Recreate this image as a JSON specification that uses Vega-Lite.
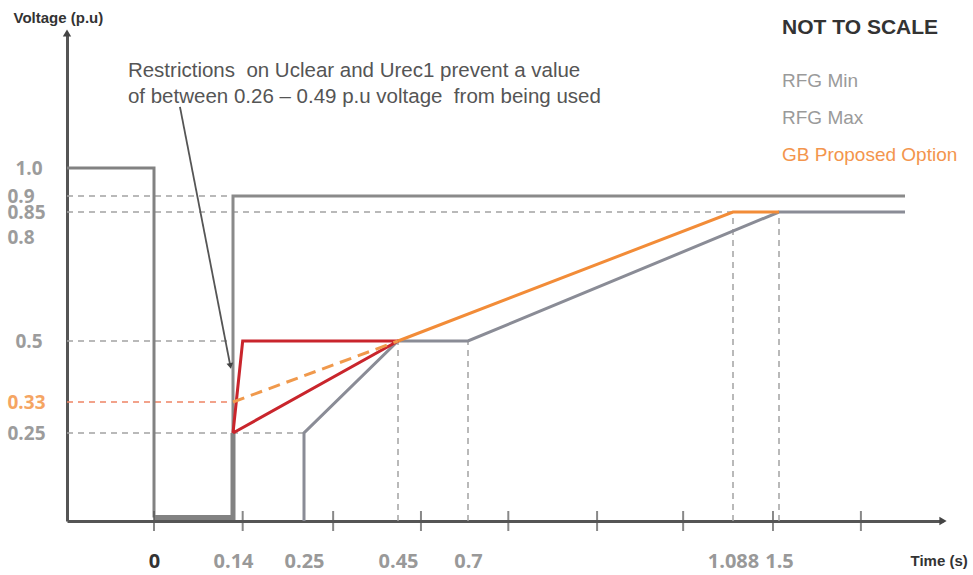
{
  "$schema": "https://vega.github.io/schema/vega-lite/v6.json",
  "width": 876,
  "height": 488,
  "autosize": {"type": "none"},
  "padding": {"left": 67, "top": 33, "right": 30, "bottom": 54},
  "background": "white",
  "config": {"view": {"stroke": null}, "font": "Liberation Sans"},
  "datasets": {
    "lines": [
      {"series": "Fault", "i": 1, "t": -0.2, "v": 1.0},
      {"series": "Fault", "i": 2, "t": 0, "v": 1.0},
      {"series": "Fault", "i": 3, "t": 0, "v": 0.01},
      {"series": "Zero", "i": 1, "t": 0, "v": 0.01},
      {"series": "Zero", "i": 2, "t": 0.14, "v": 0.01},
      {"series": "Zero", "i": 3, "t": 0.14, "v": 0.25},
      {"series": "RFG Max", "i": 1, "t": 0.14, "v": 0.01},
      {"series": "RFG Max", "i": 2, "t": 0.14, "v": 0.9},
      {"series": "RFG Max", "i": 3, "t": 2.0, "v": 0.9},
      {"series": "RFG Min", "i": 1, "t": 0.25, "v": 0},
      {"series": "RFG Min", "i": 2, "t": 0.25, "v": 0.25},
      {"series": "RFG Min", "i": 3, "t": 0.45, "v": 0.5},
      {"series": "RFG Min", "i": 4, "t": 0.7, "v": 0.5},
      {"series": "RFG Min", "i": 5, "t": 1.5, "v": 0.85},
      {"series": "RFG Min", "i": 6, "t": 2.0, "v": 0.85},
      {"series": "Restriction", "i": 1, "t": 0.14, "v": 0.25},
      {"series": "Restriction", "i": 2, "t": 0.155, "v": 0.5},
      {"series": "Restriction", "i": 3, "t": 0.45, "v": 0.5},
      {"series": "Restriction", "i": 4, "t": 0.14, "v": 0.25},
      {"series": "GB dashed", "i": 1, "t": 0.14, "v": 0.33},
      {"series": "GB dashed", "i": 2, "t": 0.45, "v": 0.5},
      {"series": "GB Proposed Option", "i": 1, "t": 0.45, "v": 0.5},
      {"series": "GB Proposed Option", "i": 2, "t": 1.088, "v": 0.85},
      {"series": "GB Proposed Option", "i": 3, "t": 1.5, "v": 0.85}
    ],
    "refs": [
      {"kind": "gray", "t": -0.2, "t2": 0.14, "v": 0.9, "v2": 0.9},
      {"kind": "gray", "t": -0.2, "t2": 1.088, "v": 0.85, "v2": 0.85},
      {"kind": "gray", "t": -0.2, "t2": 0.14, "v": 0.5, "v2": 0.5},
      {"kind": "orange", "t": -0.2, "t2": 0.14, "v": 0.33, "v2": 0.33},
      {"kind": "gray", "t": -0.2, "t2": 0.25, "v": 0.25, "v2": 0.25},
      {"kind": "gray", "t": 0.45, "t2": 0.45, "v": 0, "v2": 0.5},
      {"kind": "gray", "t": 0.7, "t2": 0.7, "v": 0, "v2": 0.5},
      {"kind": "gray", "t": 1.088, "t2": 1.088, "v": 0, "v2": 0.85},
      {"kind": "gray", "t": 1.5, "t2": 1.5, "v": 0, "v2": 0.85}
    ],
    "ticks": [
      {"t": 0}, {"t": 0.155}, {"t": 0.312}, {"t": 0.532}, {"t": 0.759},
      {"t": 0.889}, {"t": 1.015}, {"t": 1.446}, {"t": 1.825}
    ]
  },
  "layer": [
    {
      "encoding": {
        "x": {
          "field": "t", "type": "quantitative",
          "scale": {"domain": [-0.2, 0, 0.14, 0.25, 0.45, 0.7, 1.088, 1.5, 2.0, 2.2], "range": [0, 87, 166, 237, 331, 401, 666, 712, 838, 876], "nice": false, "zero": false},
          "axis": {
            "values": [0, 0.14, 0.25, 0.45, 0.7, 1.088, 1.5], "format": ".3~f",
            "ticks": false, "tickSize": 0, "grid": false,
            "domainColor": "#555555", "domainWidth": 3,
            "labelPadding": 40, "labelBaseline": "middle", "labelFontSize": 20, "labelFont": "Open Sans",
            "labelColor": {"condition": {"test": "datum.value == 0", "value": "#333333"}, "value": "#999999"},
            "labelFontWeight": "bold",
            "labelOverlap": false, "labelBound": false, "labelFlush": false,
            "title": "Time (s)", "titleX": 843, "titleY": 39, "titleAlign": "left", "titleBaseline": "middle",
            "titleFontSize": 15, "titleFontWeight": "bold", "titleColor": "#333333", "titleFont": "Liberation Sans"
          }
        },
        "y": {
          "field": "v", "type": "quantitative",
          "scale": {"domain": [0, 0.25, 0.33, 0.5, 0.8, 0.85, 0.9, 1.0, 1.3], "range": [488, 400, 369, 308, 204, 179, 163, 135, 0], "nice": false, "zero": false},
          "axis": {
            "values": [0.25, 0.33, 0.5, 0.8, 0.85, 0.9, 1.0],
            "labelExpr": "datum.value == 1 ? '1.0' : format(datum.value, '.2~f')",
            "ticks": false, "tickSize": 0, "grid": false,
            "domainColor": "#555555", "domainWidth": 3,
            "labelPadding": {"condition": {"test": "datum.value == 1 || datum.value == 0.5", "value": 52}, "value": 60},
            "labelAlign": "left", "labelBaseline": "middle", "labelFontSize": 19, "labelFont": "Open Sans",
            "labelFontWeight": "bold",
            "labelColor": {"condition": {"test": "datum.value == 0.33", "value": "#f5a563"}, "value": "#9c9c9c"},
            "labelOverlap": false, "labelBound": false, "labelFlush": false,
            "title": "Voltage (p.u)", "titleAngle": 0, "titleX": -54, "titleY": -16, "titleAlign": "left", "titleBaseline": "middle",
            "titleFontSize": 15, "titleFontWeight": "bold", "titleColor": "#333333", "titleFont": "Liberation Sans"
          }
        }
      },
      "layer": [
        {
          "data": {"name": "refs"},
          "mark": {"type": "rule", "strokeDash": [6, 5], "strokeWidth": 1.5},
          "encoding": {
            "x2": {"field": "t2"},
            "y2": {"field": "v2"},
            "color": {"condition": {"test": "datum.kind == 'orange'", "value": "#ee8464"}, "value": "#a3a3a3"}
          }
        },
        {
          "data": {"name": "lines"},
          "transform": [{"filter": "indexof(['Fault','RFG Max','RFG Min'], datum.series) >= 0"}],
          "mark": {"type": "line", "strokeWidth": 3},
          "encoding": {
            "order": {"field": "i"},
            "color": {
              "field": "series", "type": "nominal",
              "scale": {"domain": ["RFG Min", "RFG Max", "GB Proposed Option", "Fault", "Zero", "Restriction", "GB dashed"], "range": ["#8a8c96", "#8a8a8a", "#f28c38", "#828282", "#828282", "#c9252c", "#f0994c"]},
              "legend": {
                "orient": "none", "legendX": 696, "legendY": 38.5, "title": null,
                "values": ["RFG Min", "RFG Max", "GB Proposed Option"],
                "symbolSize": 0, "symbolOpacity": 0, "symbolStrokeWidth": 0, "labelOffset": 0,
                "labelFontSize": 19, "labelFont": "Liberation Sans", "rowPadding": 17, "padding": 0,
                "labelColor": "#9a9a9a", "labelLimit": 300,
                "encode": {"labels": {"update": {"fill": {"signal": "datum.label == 'GB Proposed Option' ? '#f3954d' : '#9a9a9a'"}}}}
              }
            }
          }
        },
        {
          "data": {"name": "lines"},
          "transform": [{"filter": "datum.series == 'Zero'"}],
          "mark": {"type": "line", "strokeWidth": 5},
          "encoding": {"order": {"field": "i"}, "color": {"field": "series", "type": "nominal"}}
        },
        {
          "data": {"name": "lines"},
          "transform": [{"filter": "datum.series == 'Restriction'"}],
          "mark": {"type": "line", "strokeWidth": 3},
          "encoding": {"order": {"field": "i"}, "color": {"field": "series", "type": "nominal"}}
        },
        {
          "data": {"name": "lines"},
          "transform": [{"filter": "datum.series == 'GB dashed'"}],
          "mark": {"type": "line", "strokeWidth": 3, "strokeDash": [12, 7]},
          "encoding": {"order": {"field": "i"}, "color": {"field": "series", "type": "nominal"}}
        },
        {
          "data": {"name": "lines"},
          "transform": [{"filter": "datum.series == 'GB Proposed Option'"}],
          "mark": {"type": "line", "strokeWidth": 3},
          "encoding": {"order": {"field": "i"}, "color": {"field": "series", "type": "nominal"}}
        }
      ]
    },
    {
      "data": {"name": "ticks"},
      "mark": {"type": "tick", "orient": "vertical", "size": 20, "thickness": 2, "color": "#555555"},
      "encoding": {"x": {"field": "t", "type": "quantitative"}, "y": {"datum": 0}}
    },
    {
      "data": {"values": [{}]},
      "mark": {"type": "rule", "color": "#555555", "strokeWidth": 1.8},
      "encoding": {"x": {"datum": 0.046}, "y": {"datum": 1.136}, "x2": {"datum": 0.135}, "y2": {"datum": 0.433}}
    },
    {
      "data": {"values": [{}]},
      "mark": {"type": "point", "shape": "triangle", "angle": 169, "size": 45, "filled": true, "opacity": 1, "color": "#444444"},
      "encoding": {"x": {"datum": 0.135}, "y": {"datum": 0.433}}
    },
    {
      "data": {"values": [{}]},
      "mark": {"type": "point", "shape": "triangle-up", "size": 70, "filled": true, "opacity": 1, "color": "#444444"},
      "encoding": {"x": {"datum": -0.2}, "y": {"datum": 1.3}}
    },
    {
      "data": {"values": [{}]},
      "mark": {"type": "point", "shape": "triangle-right", "size": 70, "filled": true, "opacity": 1, "color": "#444444"},
      "encoding": {"x": {"datum": 2.2}, "y": {"datum": 0}}
    },
    {
      "data": {"values": [{}]},
      "mark": {"type": "text", "text": ["Restrictions\u00a0 on Uclear and Urec1 prevent a value", "of between 0.26 – 0.49 p.u voltage\u00a0 from being used"], "align": "left", "baseline": "alphabetic", "lineHeight": 26, "fontSize": 20.5, "color": "#555555", "font": "Liberation Sans"},
      "encoding": {"x": {"datum": -0.06}, "y": {"datum": 1.202}}
    },
    {
      "data": {"values": [{}]},
      "mark": {"type": "text", "text": "NOT TO SCALE", "align": "right", "baseline": "middle", "fontSize": 21, "fontWeight": "bold", "color": "#333333", "font": "Liberation Sans"},
      "encoding": {"x": {"datum": 2.174}, "y": {"datum": 1.311}}
    }
  ]
}
